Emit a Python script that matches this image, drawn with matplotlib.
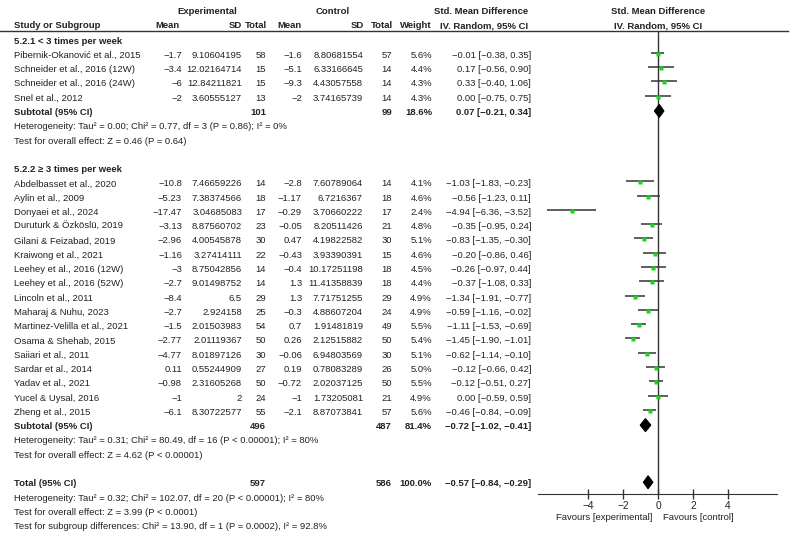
import matplotlib
matplotlib.use("Agg")
import matplotlib.pyplot as plt
from matplotlib import font_manager
from matplotlib.lines import Line2D
from matplotlib.patches import Polygon

# --- data -------------------------------------------------------------
grupo1_nome = "5.2.1 < 3 times per week"
grupo1_estudos = ["Pibernik-Okanović et al., 2015", "Schneider et al., 2016 (12W)",
                  "Schneider et al., 2016 (24W)", "Snel et al., 2012"]
grupo1_exp_mean = [-1.7, -3.4, -6, -2]
grupo1_exp_sd = [9.10604195, 12.02164714, 12.84211821, 3.60555127]
grupo1_exp_n = [58, 15, 15, 13]
grupo1_ctl_mean = [-1.6, -5.1, -9.3, -2]
grupo1_ctl_sd = [8.80681554, 6.33166645, 4.43057558, 3.74165739]
grupo1_ctl_n = [57, 14, 14, 14]
grupo1_peso = [5.6, 4.4, 4.3, 4.3]
grupo1_smd = [-0.01, 0.17, 0.33, 0.00]
grupo1_lo = [-0.38, -0.56, -0.40, -0.75]
grupo1_hi = [0.35, 0.90, 1.06, 0.75]
grupo1_sub = {"n_exp": 101, "n_ctl": 99, "peso": 18.6, "smd": 0.07, "lo": -0.21, "hi": 0.34}
grupo1_textos = ["Heterogeneity: Tau² = 0.00; Chi² = 0.77, df = 3 (P = 0.86); I² = 0%",
                 "Test for overall effect: Z = 0.46 (P = 0.64)"]

grupo2_nome = "5.2.2 ≥ 3 times per week"
grupo2_estudos = ["Abdelbasset et al., 2020", "Aylin et al., 2009", "Donyaei et al., 2024",
                  "Duruturk & Özköslü, 2019", "Gilani & Feizabad, 2019", "Kraiwong et al., 2021",
                  "Leehey et al., 2016 (12W)", "Leehey et al., 2016 (52W)", "Lincoln et al., 2011",
                  "Maharaj & Nuhu, 2023", "Martinez-Velilla et al., 2021", "Osama & Shehab, 2015",
                  "Saiiari et al., 2011", "Sardar et al., 2014", "Yadav et al., 2021",
                  "Yucel & Uysal, 2016", "Zheng et al., 2015"]
grupo2_exp_mean = [-10.8, -5.23, -17.47, -3.13, -2.96, -1.16, -3, -2.7, -8.4, -2.7, -1.5,
                   -2.77, -4.77, 0.11, -0.98, -1, -6.1]
grupo2_exp_sd = [7.46659226, 7.38374566, 3.04685083, 8.87560702, 4.00545878, 3.27414111,
                 8.75042856, 9.01498752, 6.5, 2.924158, 2.01503983, 2.01119367, 8.01897126,
                 0.55244909, 2.31605268, 2, 8.30722577]
grupo2_exp_n = [14, 18, 17, 23, 30, 22, 14, 14, 29, 25, 54, 50, 30, 27, 50, 24, 55]
grupo2_ctl_mean = [-2.8, -1.17, -0.29, -0.05, 0.47, -0.43, -0.4, 1.3, 1.3, -0.3, 0.7,
                   0.26, -0.06, 0.19, -0.72, -1, -2.1]
grupo2_ctl_sd = [7.60789064, 6.7216367, 3.70660222, 8.20511426, 4.19822582, 3.93390391,
                 10.17251198, 11.41358839, 7.71751255, 4.88607204, 1.91481819, 2.12515882,
                 6.94803569, 0.78083289, 2.02037125, 1.73205081, 8.87073841]
grupo2_ctl_n = [14, 18, 17, 21, 30, 15, 18, 18, 29, 24, 49, 50, 30, 26, 50, 21, 57]
grupo2_peso = [4.1, 4.6, 2.4, 4.8, 5.1, 4.6, 4.5, 4.4, 4.9, 4.9, 5.5, 5.4, 5.1, 5.0, 5.5, 4.9, 5.6]
grupo2_smd = [-1.03, -0.56, -4.94, -0.35, -0.83, -0.20, -0.26, -0.37, -1.34, -0.59, -1.11,
              -1.45, -0.62, -0.12, -0.12, 0.00, -0.46]
grupo2_lo = [-1.83, -1.23, -6.36, -0.95, -1.35, -0.86, -0.97, -1.08, -1.91, -1.16, -1.53,
             -1.90, -1.14, -0.66, -0.51, -0.59, -0.84]
grupo2_hi = [-0.23, 0.11, -3.52, 0.24, -0.30, 0.46, 0.44, 0.33, -0.77, -0.02, -0.69,
             -1.01, -0.10, 0.42, 0.27, 0.59, -0.09]
grupo2_sub = {"n_exp": 496, "n_ctl": 487, "peso": 81.4, "smd": -0.72, "lo": -1.02, "hi": -0.41}
grupo2_textos = ["Heterogeneity: Tau² = 0.31; Chi² = 80.49, df = 16 (P < 0.00001); I² = 80%",
                 "Test for overall effect: Z = 4.62 (P < 0.00001)"]

total = {"n_exp": 597, "n_ctl": 586, "peso": 100.0, "smd": -0.57, "lo": -0.84, "hi": -0.29}
total_textos = ["Heterogeneity: Tau² = 0.32; Chi² = 102.07, df = 20 (P < 0.00001); I² = 80%",
                "Test for overall effect: Z = 3.99 (P < 0.0001)",
                "Test for subgroup differences: Chi² = 13.90, df = 1 (P = 0.0002), I² = 92.8%"]

eixo_ticks = [-4, -2, 0, 2, 4]
eixo_lim = (-6.86, 6.8)

# --- layout (pixels) --------------------------------------------------
W, H = 792, 536
COR_TXT = "#222222"
COR_LINHA = "#333333"

try:
    font_manager.findfont("Liberation Sans Narrow", fallback_to_default=False)
    FONTE = ["Liberation Sans Narrow", "DejaVu Sans"]
    TAM = 8.2
except ValueError:
    FONTE = ["Liberation Sans", "DejaVu Sans"]
    TAM = 6.8

plt.rcParams["font.family"] = FONTE

X_NOME = 14
X_EMEAN, X_ESD, X_EN = 182, 242, 266
X_CMEAN, X_CSD, X_CN = 302, 363, 392
X_PESO, X_CI = 432, 531


def linha_y(i):
    return 12.5 + 14.28 * i


def num(v):
    return str(v).replace("-", "−")


def ci_txt(smd, lo, hi):
    return f"{smd:.2f} [{lo:.2f}, {hi:.2f}]".replace("-", "−")


def put(fig, x, y, s, ha="left", bold=False):
    fig.text(x / W, 1 - y / H, s, ha=ha, va="center", fontsize=TAM,
             fontweight="bold" if bold else "normal", color=COR_TXT)


def desenha_estudos(fig, ax, linha, nomes, em, esd, en, cm, csd, cn, peso, smd, lo, hi):
    for k in range(len(nomes)):
        y = linha_y(linha + k)
        put(fig, X_NOME, y, nomes[k])
        put(fig, X_EMEAN, y, num(em[k]), "right")
        put(fig, X_ESD, y, num(esd[k]), "right")
        put(fig, X_EN, y, str(en[k]), "right")
        put(fig, X_CMEAN, y, num(cm[k]), "right")
        put(fig, X_CSD, y, num(csd[k]), "right")
        put(fig, X_CN, y, str(cn[k]), "right")
        put(fig, X_PESO, y, f"{peso[k]:.1f}%", "right")
        put(fig, X_CI, y, ci_txt(smd[k], lo[k], hi[k]), "right")
        ax.plot([lo[k], hi[k]], [y - 2.5, y - 2.5], color=COR_LINHA, lw=1.1,
                solid_capstyle="butt", zorder=2)
        ax.plot([smd[k]], [y - 1.5], marker="s", ms=2.8, color="#19d419", mec="none", zorder=3)


def desenha_resumo(fig, ax, linha, rotulo, dados):
    y = linha_y(linha)
    put(fig, X_NOME, y, rotulo, bold=True)
    put(fig, X_EN, y, str(dados["n_exp"]), "right", True)
    put(fig, X_CN, y, str(dados["n_ctl"]), "right", True)
    put(fig, X_PESO, y, f"{dados['peso']:.1f}%", "right", True)
    put(fig, X_CI, y, ci_txt(dados["smd"], dados["lo"], dados["hi"]), "right", True)
    lo, hi, c = dados["lo"], dados["hi"], dados["smd"]
    ax.add_patch(Polygon([[lo, y - 1.5], [c, y - 8], [hi, y - 1.5], [c, y + 5]],
                         closed=True, facecolor="black", edgecolor="black", lw=0.8))


fig = plt.figure(figsize=(W / 100, H / 100), dpi=100)
ax = fig.add_axes([538 / W, 1 - 494 / H, (777 - 538) / W, (494 - 31) / H])
ax.set_xlim(*eixo_lim)
ax.set_ylim(494, 31)
for lado in ["left", "right", "top"]:
    ax.spines[lado].set_visible(False)
ax.spines["bottom"].set_color(COR_LINHA)
ax.set_yticks([])
ax.set_xticks(eixo_ticks)
ax.set_xticklabels([num(t) for t in eixo_ticks], fontsize=TAM + 0.5, color=COR_TXT)
ax.tick_params(axis="x", direction="inout", length=7, width=1, color=COR_LINHA, pad=1.5)
ax.axvline(0, color=COR_LINHA, lw=1, zorder=1)
ax.patch.set_alpha(0)

# cabecalho
put(fig, 207, 12, "Experimental", "center", True)
put(fig, 333, 12, "Control", "center", True)
put(fig, 528, 12, "Std. Mean Difference", "right", True)
put(fig, 658, 12, "Std. Mean Difference", "center", True)
y1 = 26
put(fig, X_NOME, y1, "Study or Subgroup", bold=True)
put(fig, 180, y1, "Mean", "right", True)
put(fig, 242, y1, "SD", "right", True)
put(fig, 267, y1, "Total", "right", True)
put(fig, 302, y1, "Mean", "right", True)
put(fig, 364, y1, "SD", "right", True)
put(fig, 393, y1, "Total", "right", True)
put(fig, 432, y1, "Weight", "right", True)
put(fig, 528, y1, "IV. Random, 95% CI", "right", True)
put(fig, 658, y1, "IV. Random, 95% CI", "center", True)
fig.add_artist(Line2D([0, 788 / W], [1 - 31 / H, 1 - 31 / H], transform=fig.transFigure,
                      color=COR_LINHA, lw=1))

# subgrupo 1
put(fig, X_NOME, linha_y(2), grupo1_nome, bold=True)
desenha_estudos(fig, ax, 3, grupo1_estudos, grupo1_exp_mean, grupo1_exp_sd, grupo1_exp_n,
                grupo1_ctl_mean, grupo1_ctl_sd, grupo1_ctl_n, grupo1_peso,
                grupo1_smd, grupo1_lo, grupo1_hi)
l = 3 + len(grupo1_estudos)
desenha_resumo(fig, ax, l, "Subtotal (95% CI)", grupo1_sub)
for j, t in enumerate(grupo1_textos):
    put(fig, X_NOME, linha_y(l + 1 + j), t)

# subgrupo 2
l = l + 4
put(fig, X_NOME, linha_y(l), grupo2_nome, bold=True)
desenha_estudos(fig, ax, l + 1, grupo2_estudos, grupo2_exp_mean, grupo2_exp_sd, grupo2_exp_n,
                grupo2_ctl_mean, grupo2_ctl_sd, grupo2_ctl_n, grupo2_peso,
                grupo2_smd, grupo2_lo, grupo2_hi)
l = l + 1 + len(grupo2_estudos)
desenha_resumo(fig, ax, l, "Subtotal (95% CI)", grupo2_sub)
for j, t in enumerate(grupo2_textos):
    put(fig, X_NOME, linha_y(l + 1 + j), t)

# total
l = l + 4
desenha_resumo(fig, ax, l, "Total (95% CI)", total)
for j, t in enumerate(total_textos):
    put(fig, X_NOME, linha_y(l + 1 + j), t)

put(fig, 652, 518, "Favours [experimental]", "right")
put(fig, 663, 518, "Favours [control]", "left")

fig.savefig("out.png", dpi=100, facecolor="white")
